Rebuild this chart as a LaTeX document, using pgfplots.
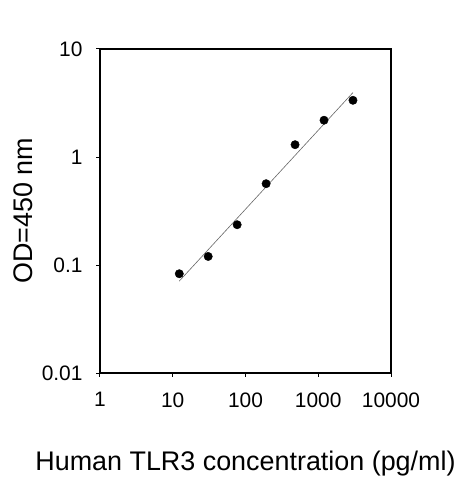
\documentclass[border=0pt]{standalone}
\usepackage{fontspec}
\setmainfont{Liberation Sans}
\usepackage{pgfplots}
\pgfplotsset{compat=1.18}
\begin{document}
\begin{tikzpicture}
\begin{axis}[
  at={(0,0)}, anchor=south west,
  scale only axis, width=291bp, height=324bp,
  xmode=log, ymode=log,
  xmin=1, xmax=10000, ymin=0.01, ymax=10,
  xtick={1,10,100,1000,10000},
  xticklabels={1,10,100,1000,10000},
  ytick={0.01,0.1,1,10},
  yticklabels={0.01,0.1,1,10},
  xminorticks=false, yminorticks=false,
  xtick pos=left, ytick pos=left,
  tick align=outside,
  major tick length=4bp,
  axis line style={line width=1.1bp},
  every tick/.style={black, line width=1bp},
  /pgf/number format/assume math mode=true,
  xticklabel style={font=\fontsize{21}{25}\selectfont, yshift=-12bp},
  yticklabel style={font=\fontsize{21}{25}\selectfont, xshift=-10bp},
  xlabel={Human TLR3 concentration (pg/ml)},
  ylabel={OD=450 nm},
  label style={font=\fontsize{27}{32}\selectfont},
  xlabel style={at={(axis description cs:0.5,0)}, anchor=base, yshift=-97bp},
  ylabel style={at={(axis description cs:0,0.5)}, anchor=base, yshift=67bp},
]
\addplot[color=black!60, line width=0.6bp] coordinates {(12.3,0.071) (3000,3.95)};
\addplot[only marks, mark=*, mark size=4.2bp, color=black] coordinates {
  (12.3,0.083) (30.7,0.12) (76.8,0.236) (192,0.566) (480,1.30) (1200,2.19) (3000,3.35)};
\end{axis}
\pgfresetboundingbox
\useasboundingbox (-100bp,-107bp) rectangle (363bp,373bp);
\end{tikzpicture}
\end{document}
